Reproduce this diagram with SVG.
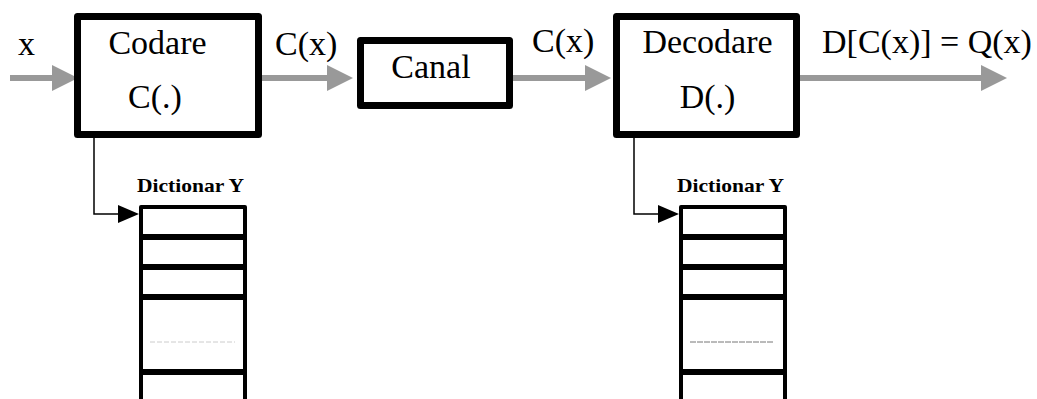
<svg xmlns="http://www.w3.org/2000/svg" width="1037" height="399" viewBox="0 0 1037 399">
<style>
.box{fill:#fff;stroke:#000;stroke-width:7;stroke-linejoin:round}
.t{font-family:"Liberation Serif","Times New Roman",serif;font-size:34px;fill:#000}
.tb{font-family:"Liberation Serif","Times New Roman",serif;font-size:19px;font-weight:bold;fill:#000}
.ga{stroke:#999;stroke-width:6;fill:none}
.ba{stroke:#000;stroke-width:1.5;fill:none}
.dict{fill:none;stroke:#000;stroke-width:4;stroke-linejoin:round}
.row{stroke:#000;stroke-width:6}
</style>
<defs>
<marker id="gh" markerUnits="userSpaceOnUse" markerWidth="26" markerHeight="26" viewBox="0 0 26 26" refX="0" refY="13" orient="auto">
<path d="M0,0 L26,13 L0,26 z" fill="#999"/>
</marker>
<marker id="bh" markerUnits="userSpaceOnUse" markerWidth="21" markerHeight="18" viewBox="0 0 21 18" refX="0" refY="9" orient="auto">
<path d="M0,0 L21,9 L0,18 z" fill="#000"/>
</marker>
</defs>
<g id="connectors">
<line class="ga" x1="10" y1="78" x2="52" y2="78" marker-end="url(#gh)"/>
<line class="ga" x1="262" y1="78" x2="327" y2="78" marker-end="url(#gh)"/>
<line class="ga" x1="513" y1="78" x2="585" y2="78" marker-end="url(#gh)"/>
<line class="ga" x1="800" y1="78" x2="981" y2="78" marker-end="url(#gh)"/>
<path class="ba" d="M94,138 V214 H118" marker-end="url(#bh)"/>
<path class="ba" d="M634,138 V214 H658" marker-end="url(#bh)"/>
<text class="t" x="18" y="55">x</text>
<text class="t" x="275" y="55">C(x)</text>
<text class="t" x="532" y="52">C(x)</text>
<text class="t" x="822" y="53">D[C(x)] = Q(x)</text>
</g>
<g id="codare">
<rect class="box" x="77.5" y="16.5" width="181" height="118"/>
<text class="t" x="157.5" y="54" text-anchor="middle">Codare</text>
<text class="t" x="155" y="108" text-anchor="middle">C(.)</text>
</g>
<g id="canal">
<rect class="box" x="360.5" y="40.5" width="149" height="65"/>
<text class="t" x="431" y="78" text-anchor="middle">Canal</text>
</g>
<g id="decodare">
<rect class="box" x="616.5" y="16.5" width="180" height="118"/>
<text class="t" x="707.5" y="53" text-anchor="middle">Decodare</text>
<text class="t" x="707.5" y="108" text-anchor="middle">D(.)</text>
</g>
<g id="dictionar1">
<text class="tb" x="137" y="192" textLength="107" lengthAdjust="spacingAndGlyphs">Dictionar Y</text>
<path class="dict" d="M141,410 V207 H245 V410"/>
<line class="row" x1="139" y1="237" x2="247" y2="237"/>
<line class="row" x1="139" y1="267" x2="247" y2="267"/>
<line class="row" x1="139" y1="297" x2="247" y2="297"/>
<line class="row" x1="139" y1="372" x2="247" y2="372"/>
<line x1="150" y1="342" x2="235" y2="342" stroke="#ccc" stroke-width="1" stroke-dasharray="5,2"/>
</g>
<g id="dictionar2">
<text class="tb" x="677" y="192" textLength="107" lengthAdjust="spacingAndGlyphs">Dictionar Y</text>
<path class="dict" d="M681,410 V207 H785 V410"/>
<line class="row" x1="679" y1="237" x2="787" y2="237"/>
<line class="row" x1="679" y1="267" x2="787" y2="267"/>
<line class="row" x1="679" y1="297" x2="787" y2="297"/>
<line class="row" x1="679" y1="372" x2="787" y2="372"/>
<line x1="690" y1="342" x2="774" y2="342" stroke="#777" stroke-width="1" stroke-dasharray="6,1"/>
</g>
</svg>
